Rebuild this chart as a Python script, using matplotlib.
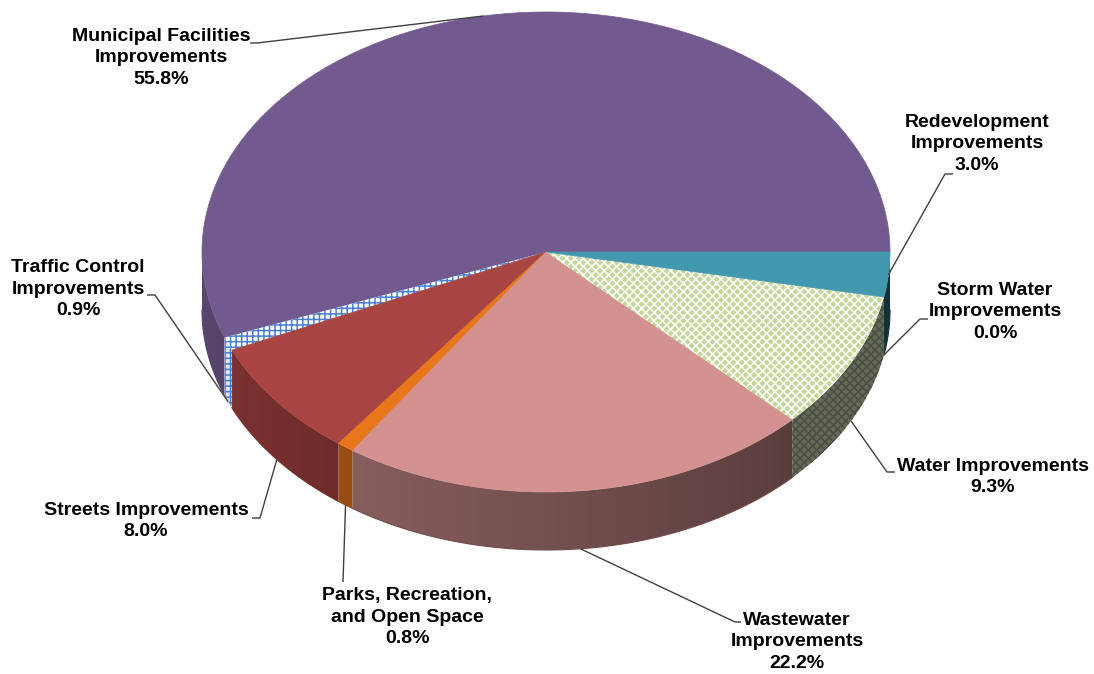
import numpy as np
import matplotlib
matplotlib.use("Agg")
import matplotlib.pyplot as plt
from matplotlib.patches import Polygon
from matplotlib.colors import to_rgb

plt.rcParams.update({
    "font.family": ["Liberation Sans", "DejaVu Sans"],
    "font.weight": "bold",
    "hatch.linewidth": 1.1,
})

# ---- data (counter-clockwise from 3 o'clock) ----
CATEGORIES = ["Municipal Facilities\nImprovements", "Traffic Control\nImprovements",
              "Streets Improvements", "Parks, Recreation,\nand Open Space",
              "Wastewater\nImprovements", "Water Improvements",
              "Storm Water\nImprovements", "Redevelopment\nImprovements"]
SHARES = [55.8, 0.9, 8.0, 0.8, 22.2, 9.3, 0.0, 3.0]

# ---- styling ----
COLORS = ["#725a8e", "#ffffff", "#a84442", "#e8761b", "#d39190", "#c4d79b", "#8064a2", "#4298af"]
HATCHES = [None, "+++", None, None, None, "xxxx", None, None]
HATCH_COLORS = [None, "#4a7fd0", None, None, None, "#ffffff", None, None]
SIDE_HATCH = {1: ("#dfe6f2", "#4a7fd0"), 5: ("#646b55", "#4a4d46")}

# label layout: text centre, elbow point of the leader, tick length (+ right / - left)
LABEL_XY = [(161, 58), (78, 289), (146, 521), (407, 617), (797, 642), (993, 477), (995, 312), (977, 144)]
ELBOW = [(257, 43), (155, 295), (260, 518), (343, 582), (735, 622), (887, 472), (920, 319), (945, 174)]
TICK = [-7, -8, -8, 0, 6, 8, 8, 8]
ON_SIDE = [False, True, True, True, True, True, True, False]

CX, CY, A, B, DEPTH = 546, 252, 344, 240, 58


def pt(theta, dy=0.0):
    t = np.radians(theta)
    return CX + A * np.cos(t), CY - B * np.sin(t) + dy


def shade(color, f):
    r, g, b = to_rgb(color)
    return (min(r * f, 1), min(g * f, 1), min(b * f, 1))


def light(theta):
    # lighter on the left-front, darker towards the right
    th = np.asarray(theta) % 360
    return 0.8 - 0.5 * (th - 180) / 180


fig = plt.figure(figsize=(10.94, 6.74), dpi=100)
ax = fig.add_axes([0, 0, 1, 1])
ax.set_xlim(0, 1094)
ax.set_ylim(674, 0)
ax.axis("off")

bounds = np.concatenate([[0], np.cumsum(SHARES)]) * 3.6
slices = [(bounds[i], bounds[i + 1]) for i in range(len(SHARES))]

# ---- side walls (front half only) ----
for i, (t1, t2) in enumerate(slices):
    s1, s2 = max(t1, 180), min(t2, 360)
    if s2 <= s1:
        continue
    th = np.linspace(s1, s2, max(4, int((s2 - s1) * 3)))
    top = [pt(t) for t in th]
    bot = [pt(t, DEPTH) for t in th[::-1]]
    verts = top + bot
    f_mid = float(light((s1 + s2) / 2))
    if HATCHES[i]:
        face, hc = SIDE_HATCH[i]
        ax.add_patch(Polygon(verts, closed=True, facecolor=face, edgecolor=hc,
                             hatch=HATCHES[i], lw=0))
        continue
    poly = Polygon(verts, closed=True, facecolor="none", edgecolor="none")
    ax.add_patch(poly)
    xs = np.array([v[0] for v in verts])
    ys = np.array([v[1] for v in verts])
    x0, x1 = xs.min() - 1, xs.max() + 1
    xcol = np.linspace(x0, x1, 400)
    cosv = np.clip((xcol - CX) / A, -1, 1)
    thc = 360 - np.degrees(np.arccos(cosv))
    base = np.array(to_rgb(COLORS[i]))
    img = (base[None, :] * light(thc)[:, None])[None, :, :]
    im = ax.imshow(np.clip(img, 0, 1), extent=[x0, x1, ys.max() + 1, ys.min() - 1],
                   aspect="auto", interpolation="bilinear", zorder=1)
    im.set_clip_path(poly)
    # soften the clipped lower edge
    ax.plot([v[0] for v in bot], [v[1] for v in bot], color=shade(COLORS[i], f_mid), lw=0.8, zorder=1)

# ---- top faces ----
for i, (t1, t2) in enumerate(slices):
    if t2 <= t1:
        continue
    th = np.linspace(t1, t2, max(3, int((t2 - t1) * 2)))
    verts = [(CX, CY)] + [pt(t) for t in th]
    if HATCHES[i]:
        ax.add_patch(Polygon(verts, closed=True, facecolor=COLORS[i], edgecolor=HATCH_COLORS[i],
                             hatch=HATCHES[i], lw=0, zorder=2))
    else:
        ax.add_patch(Polygon(verts, closed=True, facecolor=COLORS[i], edgecolor=COLORS[i],
                             lw=0.5, zorder=2))

# ---- labels with leader lines ----
for i, (t1, t2) in enumerate(slices):
    mid = (t1 + t2) / 2
    anchor = pt(mid, DEPTH if ON_SIDE[i] else 0)
    ex, ey = ELBOW[i]
    ax.plot([ex + TICK[i], ex, anchor[0]], [ey, ey, anchor[1]], color="#404040", lw=1.0,
            solid_capstyle="butt", zorder=3)
    lx, ly = LABEL_XY[i]
    ax.text(lx, ly, f"{CATEGORIES[i]}\n{SHARES[i]:.1f}%", ha="center", va="center",
            fontsize=14, fontweight="bold", linespacing=1.32, color="#000000", zorder=4)

fig.savefig("out.png", dpi=100)
